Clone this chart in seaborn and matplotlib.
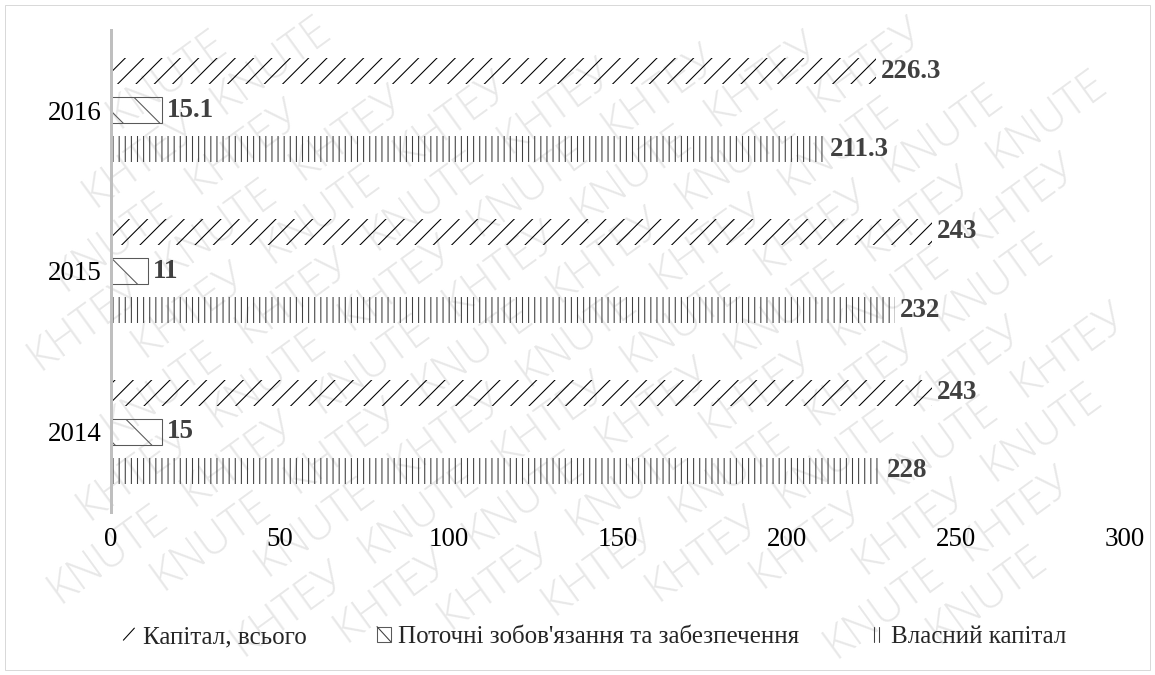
import matplotlib
matplotlib.use('Agg')
import matplotlib.pyplot as plt
from matplotlib.patches import Rectangle, Patch
from matplotlib.lines import Line2D
import seaborn as sns
import pandas as pd
import numpy as np

# ---- data ----
years = ['2014', '2015', '2016']
series = ['Капітал, всього', "Поточні зобов'язання та забезпечення", 'Власний капітал']
capital_total = [243, 243, 226.3]
current_liab = [15, 11, 15.1]
equity = [228, 232, 211.3]
xticks = [0, 50, 100, 150, 200, 250, 300]
watermark_words = ['KNUTE', 'КНТЕУ']

sns.set_theme(style='white')
plt.rcParams['font.family'] = ['Liberation Serif', 'DejaVu Serif']
plt.rcParams['hatch.linewidth'] = 0.7

DPI = 110
W, H = 1155, 675
PX = 72.0 / DPI  # points per pixel
FS = 27 * PX     # main font size (27 px em)
fig = plt.figure(figsize=(W / DPI, H / DPI), dpi=DPI)
fig.patch.set_facecolor('white')

# ---- watermark (whole words only, kept inside the figure) ----
ang = 36
th = np.deg2rad(ang)
d = np.array([np.cos(th), np.sin(th)])
n = np.array([-np.sin(th), np.cos(th)])
L, h = 140, 34
hx = (L / 2) * np.cos(th) + (h / 2) * np.sin(th)
hy = (L / 2) * np.sin(th) + (h / 2) * np.cos(th)
row_pitch, word_pitch, row_shift = 50, 162, 70
for r in range(-16, 17):
    for c in range(-12, 13):
        p = np.array([W / 2, H / 2]) + r * row_pitch * n + (c * word_pitch + r * row_shift) * d
        if p[0] - hx < 3 or p[0] + hx > W - 3 or p[1] - hy < 3 or p[1] + hy > H - 3:
            continue
        fig.text(p[0] / W, p[1] / H, watermark_words[(c + r) % 2], rotation=ang,
                 rotation_mode='anchor', ha='center', va='center', fontsize=44 * PX,
                 color='#e8e8e8', family=['Open Sans', 'DejaVu Sans'],
                 fontweight='light', zorder=-10)

ax = fig.add_axes([111 / W, 1 - 512 / H, (1125 - 111) / W, (512 - 30) / H])
ax.set_facecolor('none')

df = pd.DataFrame({
    'year': years * 3,
    'series': [s for s in series for _ in years],
    'value': capital_total + current_liab + equity,
})

sns.barplot(data=df, x='value', y='year', hue='series', order=years[::-1],
            hue_order=series, orient='h', width=0.729, gap=0.333, dodge=True,
            palette=['white'] * 3, saturation=1, errorbar=None, legend=False, ax=ax)

styles = [
    dict(hatch='//', edgecolor='black', lw=0),
    dict(hatch='\\', edgecolor='#595959', lw=0.7),
    dict(hatch='|||', edgecolor='#404040', lw=0),
]
for cont, st in zip(ax.containers, styles):
    for p in cont.patches:
        p.set_facecolor('none')
        p.set_hatch(st['hatch'])
        p.set_edgecolor(st['edgecolor'])
        p.set_linewidth(st['lw'])
    ax.bar_label(cont, fmt='{:g}', padding=5 * PX, fontsize=FS, fontweight='bold',
                 color='#404040')

ax.set_xlim(0, 300)
ax.set_xticks(xticks)
ax.set_xlabel('')
ax.set_ylabel('')
ax.tick_params(axis='x', length=0, pad=15 * PX, labelsize=FS, labelcolor='black')
ax.tick_params(axis='y', length=0, pad=9 * PX, labelsize=FS, labelcolor='black')
for s in ['top', 'right', 'bottom']:
    ax.spines[s].set_visible(False)
ax.spines['left'].set_color('#BFBFBF')
ax.spines['left'].set_linewidth(3 * PX)
ax.grid(False)


class KeyHandler:
    """Legend keys drawn like the reference: slash / box with diagonal / double bar."""
    def __init__(self, kind):
        self.kind = kind

    def legend_artist(self, legend, orig_handle, fontsize, handlebox):
        x0, y0 = -handlebox.xdescent, -handlebox.ydescent
        w, hh = handlebox.width, handlebox.height
        tr = handlebox.get_transform()
        arts = []
        if self.kind == 'slash':
            arts.append(Line2D([x0 + 0.1 * w, x0 + 0.9 * w], [y0 + 0.1 * hh, y0 + 0.9 * hh],
                               color='black', lw=0.7, transform=tr))
        elif self.kind == 'box':
            arts.append(Rectangle((x0, y0), w, hh, facecolor='none', edgecolor='#595959',
                                  lw=0.7, transform=tr))
            arts.append(Line2D([x0, x0 + w], [y0 + hh, y0], color='#404040', lw=0.7,
                               transform=tr))
        else:
            for fx in (0.35, 0.7):
                arts.append(Line2D([x0 + fx * w] * 2, [y0, y0 + hh], color='#404040',
                                   lw=0.7, transform=tr))
        for a in arts:
            handlebox.add_artist(a)
        return arts[0]


proxies = [Patch(), Patch(), Patch()]
hmap = {proxies[0]: KeyHandler('slash'), proxies[1]: KeyHandler('box'),
        proxies[2]: KeyHandler('bars')}
fig.legend(handles=proxies, labels=series, loc='center',
           bbox_to_anchor=(594 / W, 1 - 637 / H), ncol=3, frameon=False,
           fontsize=25 * PX, handlelength=0.55, handleheight=0.55, handletextpad=0.3,
           columnspacing=2.8, handler_map=hmap)

fig.add_artist(Rectangle((5 / W, 5 / H), (W - 10) / W, (H - 10) / H,
                         transform=fig.transFigure, fill=False,
                         edgecolor='#d9d9d9', lw=1 * PX, zorder=-5))

fig.savefig('out.png', dpi=DPI, facecolor='white')
